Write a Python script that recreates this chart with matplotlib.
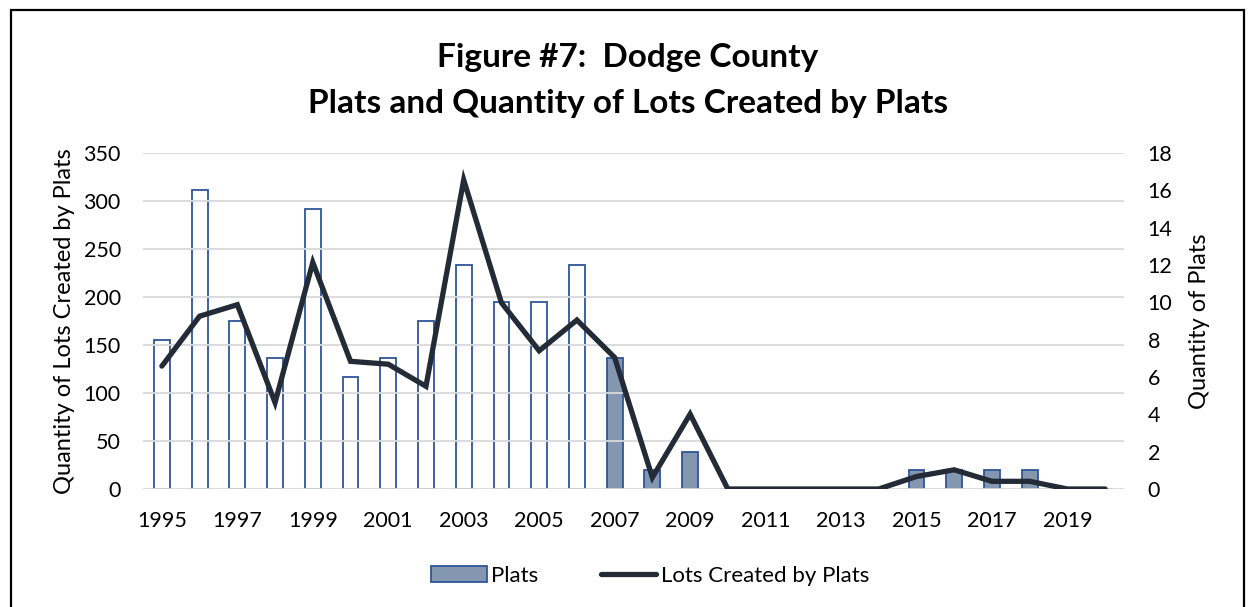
import matplotlib
matplotlib.use("Agg")
import matplotlib.pyplot as plt
import numpy as np
from matplotlib.patches import Rectangle

plt.rcParams['font.family'] = ['Lato', 'DejaVu Sans']

years = list(range(1995, 2021))
plats = [8, 16, 9, 7, 15, 6, 7, 9, 12, 10, 10, 12, 7, 1, 2, 0, 0, 0, 0, 0, 1, 1, 1, 1, 0, 0]
lots = [128, 180, 192, 90, 236, 133, 130, 107, 322, 194, 144, 176, 137, 12, 78,
        0, 0, 0, 0, 0, 13, 20, 8, 8, 0, 0]
# Excel drew the early bars hollow, later ones filled
hollow_until = 2006

edge_col = '#2F5597'
fill_col = '#8497B0'
line_col = '#232B36'

fig = plt.figure(figsize=(12.48, 6.07), dpi=100)
ax = fig.add_axes([143 / 1248, 1 - 489 / 607, (1124 - 143) / 1248, (489 - 153) / 607])
ax2 = ax.twinx()

x = np.arange(len(years))
faces = ['white' if y <= hollow_until else fill_col for y in years]
ax2.bar(x, plats, width=0.42, color=faces, edgecolor=edge_col, linewidth=1.3,
        label='Plats', zorder=2)
ax2.set_ylim(0, 18)
ax2.set_yticks(range(0, 19, 2))

ax.plot(x, lots, color=line_col, linewidth=3.8, solid_joinstyle='miter',
        solid_capstyle='round', label='Lots Created by Plats', zorder=3)
ax.set_ylim(0, 350)
ax.set_yticks(range(0, 351, 50))
ax.set_xlim(-0.5, len(years) - 0.5)
ax.set_xticks(x[::2])
ax.set_xticklabels([str(y) for y in years[::2]])

# line above the bars
ax.set_zorder(ax2.get_zorder() + 1)
ax.patch.set_visible(False)

ax.grid(axis='y', color='#D9D9D9', linewidth=1.3, zorder=0)
for a in (ax, ax2):
    for s in a.spines.values():
        s.set_visible(False)
    a.tick_params(length=0, labelsize=15.5, colors='black')
ax.tick_params(axis='y', pad=16)
ax.tick_params(axis='x', pad=16)
ax2.tick_params(axis='y', pad=17)

ax.set_ylabel('Quantity of Lots Created by Plats', fontsize=17, labelpad=6)
ax2.set_ylabel('Quantity of Plats', fontsize=17, labelpad=12)

fig.text(0.503, 1 - 57 / 607, 'Figure #7:  Dodge County', ha='center', va='center',
         fontsize=24, fontweight='bold')
fig.text(0.503, 1 - 104 / 607, 'Plats and Quantity of Lots Created by Plats', ha='center',
         va='center', fontsize=24, fontweight='bold')

h2, l2 = ax2.get_legend_handles_labels()
h1, l1 = ax.get_legend_handles_labels()
leg_bar = Rectangle((0, 0), 1, 1, facecolor=fill_col, edgecolor=edge_col, linewidth=1.3)
fig.legend([leg_bar, h1[0]], [l2[0], l1[0]], loc='center', bbox_to_anchor=(650 / 1248, 1 - 576 / 607),
           ncol=2, frameon=False, fontsize=16, handlelength=2.5, handleheight=0.7,
           handletextpad=0.2, columnspacing=2.8)

border = Rectangle((10.5 / 1248, -0.05), (1244 - 10.5) / 1248, 1.05 - 9.5 / 607,
                   transform=fig.transFigure, fill=False, edgecolor='black', linewidth=1.6)
fig.patches.append(border)

fig.savefig('out.png', dpi=100)
